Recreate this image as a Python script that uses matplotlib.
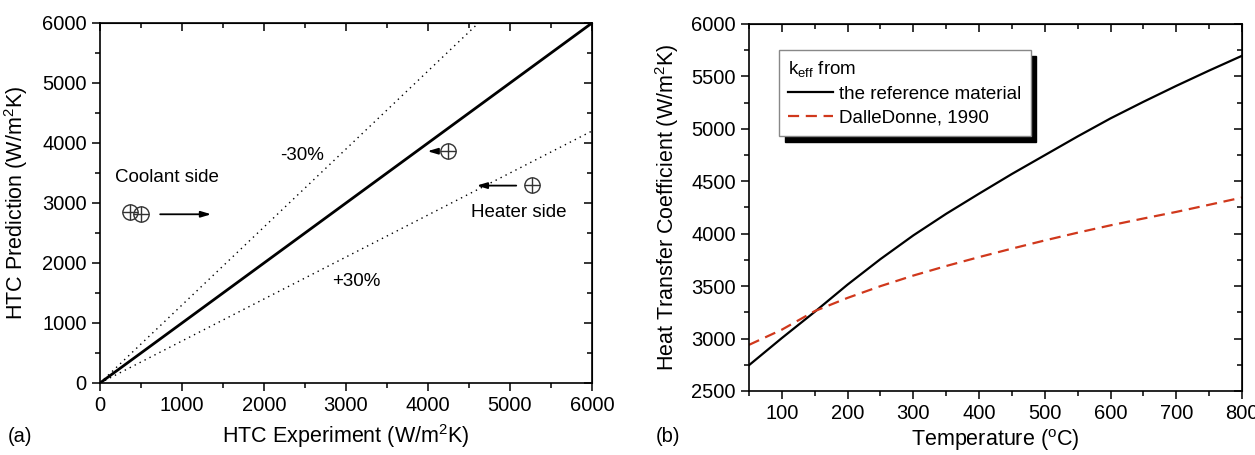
import numpy as np
import matplotlib
matplotlib.use("Agg")
import matplotlib.pyplot as plt
from matplotlib.ticker import MultipleLocator

plt.rcParams['font.family'] = ['Liberation Sans', 'DejaVu Sans']
plt.rcParams['mathtext.fontset'] = 'custom'
plt.rcParams['mathtext.rm'] = 'Liberation Sans'
plt.rcParams['mathtext.it'] = 'Liberation Sans'

# (a) HTC prediction vs experiment
htc_line = [0, 6000]
minus30_x = [0, 4615]   # y = 1.3 x
plus30_x = [0, 6000]    # y = 0.7 x
coolant_exp = [371, 506]
coolant_pred = [2850, 2823]
heater_exp = [4244, 5267]
heater_pred = [3863, 3293]

# (b) HTC vs temperature
temp = [50, 100, 150, 200, 250, 300, 350, 400, 450, 500, 550, 600, 650, 700, 750, 800]
htc_ref = [2746, 3005, 3255, 3515, 3758, 3984, 4190, 4382, 4570, 4749, 4928, 5100, 5258, 5410, 5556, 5697]
htc_dd = [2940, 3085, 3262, 3388, 3500, 3601, 3692, 3777, 3858, 3936, 4010, 4080, 4145, 4208, 4276, 4345]

fig = plt.figure(figsize=(12.55, 4.55), dpi=100)
W, H = 1255, 455
ax1 = fig.add_axes([100 / W, (H - 383) / H, 492 / W, 360 / H])
ax2 = fig.add_axes([749 / W, (H - 391) / H, 493 / W, 367 / H])


def style_axis(ax, xmaj, xmin, ymaj, ymin):
    for s in ax.spines.values():
        s.set_linewidth(1.2)
    ax.xaxis.set_major_locator(MultipleLocator(xmaj))
    ax.xaxis.set_minor_locator(MultipleLocator(xmin))
    ax.yaxis.set_major_locator(MultipleLocator(ymaj))
    ax.yaxis.set_minor_locator(MultipleLocator(ymin))
    ax.tick_params(which='both', direction='out', top=False, right=False,
                   labelsize=14.5, width=1.1)
    ax.tick_params(which='major', length=6)
    ax.tick_params(which='minor', length=3.5)
    # inward ticks on top and right
    sec_x = ax.secondary_xaxis('top')
    sec_y = ax.secondary_yaxis('right')
    sec_x.xaxis.set_major_locator(MultipleLocator(xmaj))
    sec_x.xaxis.set_minor_locator(MultipleLocator(xmin))
    sec_y.yaxis.set_major_locator(MultipleLocator(ymaj))
    sec_y.yaxis.set_minor_locator(MultipleLocator(ymin))
    for sec in (sec_x, sec_y):
        sec.tick_params(which='both', direction='in', labelsize=0, width=1.1)
        sec.tick_params(which='major', length=6)
        sec.tick_params(which='minor', length=3.5)
    sec_x.set_xticklabels([])
    sec_y.set_yticklabels([])


# ---- (a)
ax1.plot(htc_line, htc_line, color='black', lw=2.0)
ax1.plot(minus30_x, [1.3 * v for v in minus30_x], color='black', lw=1.0, ls=(0, (1, 3)))
ax1.plot(plus30_x, [0.7 * v for v in plus30_x], color='black', lw=1.0, ls=(0, (1, 3)))
for xs, ys in ((coolant_exp, coolant_pred), (heater_exp, heater_pred)):
    ax1.plot(xs, ys, ls='none', marker='o', ms=11, mfc='none', mec='#333333', mew=1.0)
    ax1.plot(xs, ys, ls='none', marker='+', ms=11, mec='#333333', mew=1.0)

arrow = dict(arrowstyle='-|>,head_length=0.6,head_width=0.18', color='black', lw=1.3)
ax1.annotate('', xy=(1390, 2812), xytext=(700, 2812), arrowprops=arrow)
ax1.annotate('', xy=(3960, 3863), xytext=(4160, 3863), arrowprops=arrow)
ax1.annotate('', xy=(4560, 3290), xytext=(5110, 3290), arrowprops=arrow)

ax1.text(2470, 3800, '-30%', fontsize=13.5, ha='center', va='center')
ax1.text(815, 3430, 'Coolant side', fontsize=13.5, ha='center', va='center')
ax1.text(5110, 2840, 'Heater side', fontsize=13.5, ha='center', va='center')
ax1.text(3120, 1700, '+30%', fontsize=13.5, ha='center', va='center')

ax1.set_xlim(0, 6000)
ax1.set_ylim(0, 6000)
style_axis(ax1, 1000, 500, 1000, 500)
ax1.set_xlabel('HTC Experiment (W/m$^2$K)', fontsize=15.5, labelpad=5)
ax1.set_ylabel('HTC Prediction (W/m$^2$K)', fontsize=15.5, labelpad=9)

# ---- (b)
ax2.plot(temp, htc_ref, color='black', lw=1.6, label='the reference material')
ax2.plot(temp, htc_dd, color='#d0381c', lw=1.6, ls=(0, (5, 3)), label='DalleDonne, 1990')
ax2.set_xlim(50, 800)
ax2.set_ylim(2500, 6000)
style_axis(ax2, 100, 50, 500, 250)
ax2.set_xticks([100, 200, 300, 400, 500, 600, 700, 800])
ax2.set_xlabel('Temperature ($^{\\rm o}$C)', fontsize=15.5, labelpad=3)
ax2.set_ylabel('Heat Transfer Coefficient (W/m$^2$K)', fontsize=15.5, labelpad=7)

leg = ax2.legend(loc='upper left', bbox_to_anchor=(0.042, 0.955), title='k$_{\\rm eff}$ from',
                 fontsize=13.5, title_fontsize=13.5, frameon=True, fancybox=False,
                 shadow={'color': 'black', 'alpha': 1.0, 'ox': 4, 'oy': -4.5},
                 handlelength=2.4, handletextpad=0.3, borderpad=0.5, labelspacing=0.35)
leg._legend_box.align = 'left'
leg.get_frame().set_edgecolor('#888888')
leg.get_frame().set_linewidth(1.0)

fig.text(8 / W, 1 - 437 / H, '(a)', fontsize=14.5, va='center', ha='left')
fig.text(656 / W, 1 - 437 / H, '(b)', fontsize=14.5, va='center', ha='left')

fig.savefig('out.png', dpi=100)
